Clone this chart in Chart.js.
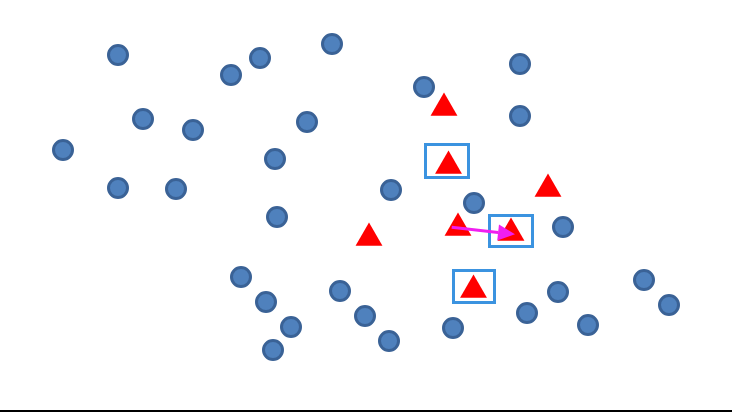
<!DOCTYPE html>
<html>
<head>
<meta charset="utf-8">
<script src="https://cdn.jsdelivr.net/npm/chart.js@4/dist/chart.umd.min.js"></script>
<style>
html,body{margin:0;padding:0;background:#fff;}
#wrap{width:732px;height:412px;}
</style>
</head>
<body>
<div id="wrap"><canvas id="c" width="732" height="412"></canvas></div>
<script>
// Blue circles (x, y in chart units)
const circleX = [11.8,23.1,26.0,33.2,42.4,52.0,52.0,14.3,19.3,30.7,6.3,27.5,11.8,17.6,39.1,47.4,27.7,56.3,24.1,26.6,34.0,29.1,36.5,27.3,38.9,45.3,52.7,55.8,58.8,64.4,66.9];
const circleY = [35.7,33.7,35.4,36.8,32.5,34.8,29.6,29.3,28.2,29.0,26.2,25.3,22.4,22.3,22.2,20.9,19.5,18.5,13.5,11.0,12.1,8.5,9.6,6.2,7.1,8.4,9.9,12.0,8.7,13.2,10.7];
// Red triangles
const triX = [44.4,44.85,54.8,36.9,45.8,51.1,47.35];
const triY = [30.4,24.6,22.3,17.4,18.4,17.9,12.2];
// Highlight boxes (edges in chart units)
const boxXMin = [42.55,48.95,45.35];
const boxXMax = [46.85,53.25,49.45];
const boxYMin = [23.45,16.55,10.95];
const boxYMax = [26.75,19.65,14.15];
// Arrow (start -> tip)
const arrowFrom = [45.17,18.47];
const arrowTo = [51.5,17.77];

const toPts = (xs, ys) => xs.map((x,i)=>({x, y: ys[i]}));

const overlay = {
  id:'overlay',
  afterDatasetsDraw(chart){
    const {ctx, scales:{x,y}, chartArea} = chart;
    ctx.save();
    // boxes
    ctx.strokeStyle = '#3b93e0';
    ctx.lineWidth = 3;
    for(let i=0;i<boxXMin.length;i++){
      const x0 = x.getPixelForValue(boxXMin[i]), x1 = x.getPixelForValue(boxXMax[i]);
      const y0 = y.getPixelForValue(boxYMax[i]), y1 = y.getPixelForValue(boxYMin[i]);
      ctx.strokeRect(x0, y0, x1-x0, y1-y0);
    }
    // arrow
    const ax = x.getPixelForValue(arrowFrom[0]), ay = y.getPixelForValue(arrowFrom[1]);
    const bx = x.getPixelForValue(arrowTo[0]), by = y.getPixelForValue(arrowTo[1]);
    const ang = Math.atan2(by-ay, bx-ax);
    const headLen = 17, headW = 8;
    const hx = bx - Math.cos(ang)*headLen, hy = by - Math.sin(ang)*headLen;
    ctx.strokeStyle = '#f01ef0';
    ctx.fillStyle = '#f01ef0';
    ctx.lineWidth = 3;
    ctx.beginPath(); ctx.moveTo(ax, ay); ctx.lineTo(hx, hy); ctx.stroke();
    ctx.beginPath();
    ctx.moveTo(bx, by);
    ctx.lineTo(hx + Math.sin(ang)*headW, hy - Math.cos(ang)*headW);
    ctx.lineTo(hx - Math.sin(ang)*headW, hy + Math.cos(ang)*headW);
    ctx.closePath(); ctx.fill();
    // bottom baseline
    ctx.strokeStyle = '#000';
    ctx.lineWidth = 2;
    ctx.beginPath();
    ctx.moveTo(chartArea.left, chartArea.bottom-1);
    ctx.lineTo(chartArea.right, chartArea.bottom-1);
    ctx.stroke();
    ctx.restore();
  }
};

new Chart(document.getElementById('c'), {
  type:'scatter',
  data:{
    datasets:[
      {
        label:'Circles',
        data: toPts(circleX, circleY),
        pointStyle:'circle',
        pointRadius:9.5,
        pointHoverRadius:9.5,
        backgroundColor:'#4f81bd',
        borderColor:'#3a6296',
        borderWidth:3
      },
      {
        label:'Triangles',
        data: toPts(triX, triY),
        pointStyle:'triangle',
        pointRadius:15.5,
        pointHoverRadius:15.5,
        backgroundColor:'#ff0000',
        borderColor:'#ff0000',
        borderWidth:0
      }
    ]
  },
  options:{
    responsive:false,
    animation:false,
    events:[],
    layout:{padding:0, autoPadding:false},
    plugins:{legend:{display:false}, tooltip:{enabled:false}},
    scales:{
      x:{type:'linear', min:0, max:73.2, display:false},
      y:{type:'linear', min:0, max:41.2, display:false}
    }
  },
  plugins:[overlay]
});
</script>
</body>
</html>
